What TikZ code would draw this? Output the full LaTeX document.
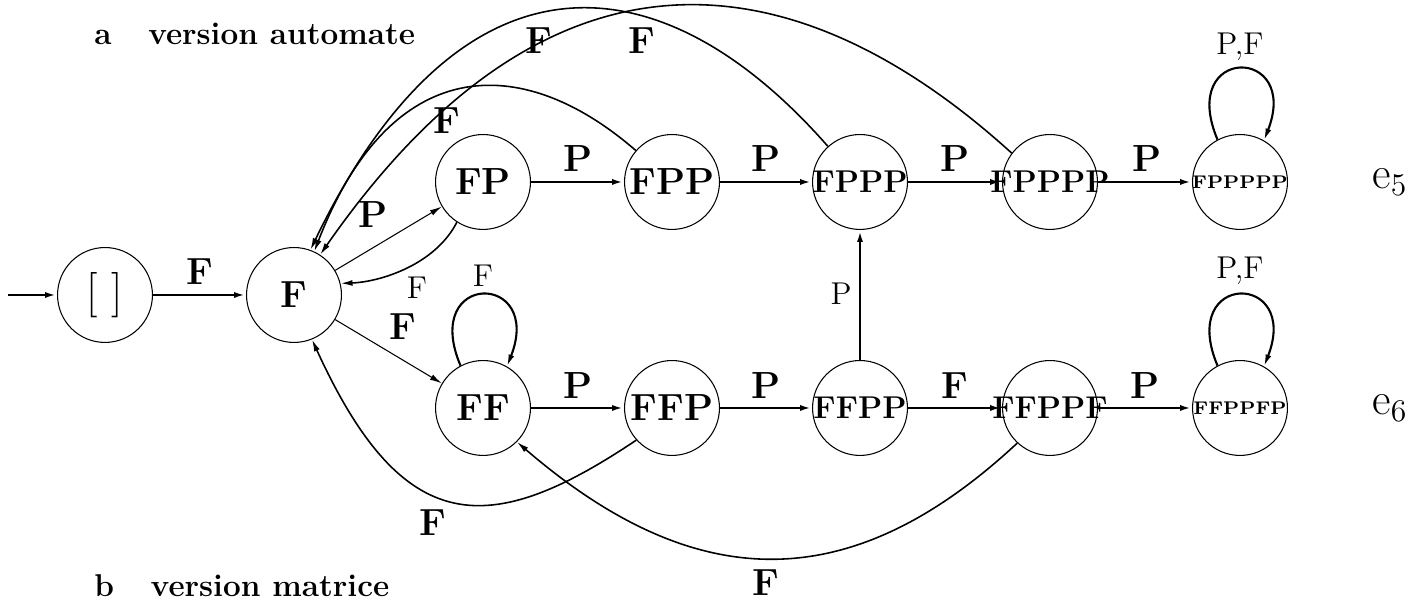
\documentclass[tikz,border=0pt]{standalone}
\usetikzlibrary{arrows.meta}
\newcommand{\etiq}[1]{\makebox[0pt]{#1}}
\begin{document}
\begin{tikzpicture}[x=1.338cm,y=1.338cm,
  etat/.style={circle,draw,line width=0.4pt,minimum size=1.27cm,inner sep=0pt},
  fl/.style={line width=1pt,-{Latex[length=1.6mm,width=0.8mm]}},
  fin/.style={line width=0.4pt,-{Latex[length=1.6mm,width=0.8mm]}},
  courbe/.style={line width=0.6pt,-{Latex[length=1.6mm,width=0.8mm]}},
  boucle/.style={line width=0.8pt,-{Latex[length=1.6mm,width=0.8mm]}},
  gras/.style={font=\Large\bfseries},
  maigre/.style={font=\large}]
  \useasboundingbox (0,0) rectangle (14.2,6.0);
  \node[anchor=base west,font=\large\bfseries] (titreA) at (0.85,5.55) {a\hspace{14pt}version automate};
  \node[anchor=base west,font=\large\bfseries] (titreB) at (0.85,0.03) {b\hspace{14pt}version matrice};
  \coordinate (init) at (0.08,3.05);
  \node[etat,font=\LARGE] (E0) at (1.05,3.05) {[ ]};
  \node[etat,font=\Large\bfseries] (F) at (2.94,3.05) {F};
  \node[etat,font=\Large\bfseries] (FP) at (4.83,4.18) {FP};
  \node[etat,font=\Large\bfseries] (FPP) at (6.72,4.18) {\etiq{FPP}};
  \node[etat,font=\large\bfseries] (FPPP) at (8.60,4.18) {\etiq{FPPP}};
  \node[etat,font=\large\bfseries] (FPPPP) at (10.50,4.18) {\etiq{FPPPP}};
  \node[etat,font=\scriptsize\bfseries] (FPPPPP) at (12.40,4.18) {\etiq{FPPPPP}};
  \node[etat,font=\Large\bfseries] (FF) at (4.83,1.92) {FF};
  \node[etat,font=\Large\bfseries] (FFP) at (6.72,1.92) {\etiq{FFP}};
  \node[etat,font=\large\bfseries] (FFPP) at (8.60,1.92) {\etiq{FFPP}};
  \node[etat,font=\large\bfseries] (FFPPF) at (10.50,1.92) {\etiq{FFPPF}};
  \node[etat,font=\scriptsize\bfseries] (FFPPFP) at (12.40,1.92) {\etiq{FFPPFP}};
  \node[font=\LARGE] (e5) at (13.90,4.18) {e$_5$};
  \node[font=\LARGE] (e6) at (13.90,1.92) {e$_6$};
  \draw[fl] (init) -- (E0);
  \draw[fl] (E0) -- (F);
  \draw[fin] (F) -- (FP);
  \draw[fin] (F) -- (FF);
  \draw[courbe] (FP.237) .. controls (4.35,3.35) and (3.80,3.18) .. (F.14);
  \draw[fl] (FP) -- (FPP);
  \draw[fl] (FPP) -- (FPPP);
  \draw[fl] (FPPP) -- (FPPPP);
  \draw[fl] (FPPPP) -- (FPPPPP);
  \draw[fl] (FF) -- (FFP);
  \draw[fl] (FFP) -- (FFPP);
  \draw[fl] (FFPP) -- (FFPPF);
  \draw[fl] (FFPPF) -- (FFPPFP);
  \draw[fl] (FFPP) -- (FPPP);
  \draw[boucle] (FF.118) .. controls +(-0.4,0.95) and +(0.37,0.95) .. (FF.60);
  \draw[boucle] (FPPPPP.118) .. controls +(-0.4,0.95) and +(0.37,0.95) .. (FPPPPP.60);
  \draw[boucle] (FFPPFP.118) .. controls +(-0.4,0.95) and +(0.37,0.95) .. (FFPPFP.60);
  \draw[courbe] (FPP.139) .. controls (5.2,5.5) and (3.9,5.45) .. (F.65);
  \draw[courbe] (FPPP.132) .. controls (6.6,6.45) and (4.6,6.6) .. (F.70);
  \draw[courbe] (FPPPP.143) .. controls (8.1,6.3) and (5.6,6.9) .. (F.57);
  \draw[courbe] (FFP.222) .. controls (4.89,0.61) and (4.03,0.61) .. (F.292);
  \draw[courbe] (FFPPF.227) .. controls (8.52,0.03) and (6.97,0.03) .. (FF.315);
  \node[gras] (lE0F) at (2.00,3.28) {F};
  \node[gras] (lFFP) at (3.73,3.85) {P};
  \node[maigre] (lFPF) at (4.17,3.12) {F};
  \node[gras] (lFFF) at (4.03,2.73) {F};
  \node[maigre] (lFFb) at (4.83,3.24) {F};
  \node[gras] (lFP1) at (5.78,4.41) {P};
  \node[gras] (lFP2) at (7.66,4.41) {P};
  \node[gras] (lFP3) at (9.55,4.41) {P};
  \node[gras] (lFP4) at (11.47,4.41) {P};
  \node[maigre] (lb5) at (12.40,5.53) {P,F};
  \node[maigre] (lb6) at (12.40,3.29) {P,F};
  \node[gras] (lFF1) at (5.78,2.14) {P};
  \node[gras] (lFF2) at (7.66,2.14) {P};
  \node[gras] (lFF3) at (9.55,2.14) {F};
  \node[gras] (lFF4) at (11.45,2.14) {P};
  \node[maigre] (lvert) at (8.41,3.06) {P};
  \node[gras] (lFFPF) at (4.33,0.77) {F};
  \node[gras] (lFFPPF) at (7.66,0.17) {F};
  \node[gras] (lFPPF) at (4.47,4.79) {F};
  \node[gras] (lFPPPF) at (5.39,5.59) {F};
  \node[gras] (lFPPPPF) at (6.42,5.59) {F};
\end{tikzpicture}
\end{document}
